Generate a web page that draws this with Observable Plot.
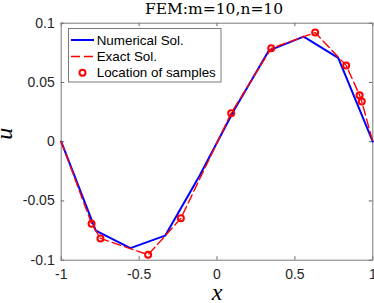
<!DOCTYPE html>
<html><head><meta charset="utf-8">
<script src="https://cdn.jsdelivr.net/npm/d3@7"></script>
<script src="https://cdn.jsdelivr.net/npm/@observablehq/plot@0.6"></script>
<style>
body{margin:0;background:#fff;}
#wrap{position:relative;width:374px;height:303px;overflow:hidden;}
#wrap svg{display:block;}
#legend{position:absolute;left:0;top:0;}
</style></head><body><div id="wrap"></div>
<script>
const title = "FEM:m=10,n=10";
const xLabel = "x";
const yLabel = "u";
const xTicks = [-1, -0.5, 0, 0.5, 1];
const xTickLabels = ["-1", "-0.5", "0", "0.5", "1"];
const yTicks = [-0.1, -0.05, 0, 0.05, 0.1];
const yTickLabels = ["-0.1", "-0.05", "0", "0.05", "0.1"];

// Numerical (FEM) solution at the mesh nodes
const nodeX = [-1, -0.778, -0.556, -0.333, -0.111, 0.111, 0.333, 0.556, 0.778, 1];
const numU  = [0, -0.0751, -0.0898, -0.0793, -0.0285, 0.027, 0.0769, 0.0887, 0.0707, 0];

// Exact solution (boundary points + samples)
const exactX = [-1, -0.805, -0.748, -0.442, -0.232, 0.091, 0.348, 0.630, 0.829, 0.915, 0.929, 1];
const exactU = [0, -0.0692, -0.0816, -0.0954, -0.0647, 0.0241, 0.0788, 0.0921, 0.0644, 0.0393, 0.0339, 0];

// Sample locations
const sampleX = [-0.805, -0.748, -0.442, -0.232, 0.091, 0.348, 0.630, 0.829, 0.915, 0.929];
const sampleU = [-0.0692, -0.0816, -0.0954, -0.0647, 0.0241, 0.0788, 0.0921, 0.0644, 0.0393, 0.0339];

const legendLabels = ["Numerical Sol.", "Exact Sol.", "Location of samples"];

const W = 374, H = 303, mL = 60.7, mR = 1.7, mT = 22.7, mB = 43.3;
const innerW = W - mL - mR, innerH = H - mT - mB;
const tick = 3.5;
const axisColor = "#262626";
const sans = "'Liberation Sans', Arial, Helvetica, sans-serif";
const serif = "'Liberation Serif', 'Times New Roman', serif";
const titleSerif = "'DejaVu Serif', serif";

const numData = nodeX.map((x, i) => ({x, u: numU[i]}));
const exactData = exactX.map((x, i) => ({x, u: exactU[i]}));
const sampleData = sampleX.map((x, i) => ({x, u: sampleU[i]}));

const chart = Plot.plot({
  width: W, height: H,
  marginLeft: mL, marginRight: mR, marginTop: mT, marginBottom: mB,
  x: {domain: [-1, 1]},
  y: {domain: [-0.1, 0.1]},
  style: {fontFamily: sans, fontSize: "14px", color: axisColor, background: "#fff", overflow: "visible"},
  marks: [
    Plot.ruleX(xTicks, {x: d => d, insetTop: innerH - tick, stroke: axisColor, strokeWidth: 0.7}),
    Plot.ruleX(xTicks, {x: d => d, insetBottom: innerH - tick, stroke: axisColor, strokeWidth: 0.7}),
    Plot.ruleY(yTicks, {y: d => d, insetRight: innerW - tick, stroke: axisColor, strokeWidth: 0.7}),
    Plot.ruleY(yTicks, {y: d => d, insetLeft: innerW - tick, stroke: axisColor, strokeWidth: 0.7}),
    Plot.frame({stroke: "#7a7a7a", strokeWidth: 1}),
    Plot.axisX(xTicks, {anchor: "bottom", tickSize: 0, tickPadding: 8.5, label: null,
      tickFormat: d => xTickLabels[xTicks.indexOf(d)], fontSize: 14, fill: axisColor}),
    Plot.axisY(yTicks, {anchor: "left", tickSize: 0, tickPadding: 6.5, label: null,
      tickFormat: d => yTickLabels[yTicks.indexOf(d)], fontSize: 14, fill: axisColor}),
    Plot.line(numData, {x: "x", y: "u", stroke: "#0000ff", strokeWidth: 2}),
    Plot.line(exactData, {x: "x", y: "u", stroke: "#ff0000", strokeWidth: 1.4, strokeDasharray: "9,4"}),
    Plot.dot(sampleData, {x: "x", y: "u", r: 3, stroke: "#ff0000", strokeWidth: 2, fill: "none"}),
    Plot.text([title], {frameAnchor: "top", dx: -3, dy: -14.5, lineAnchor: "middle",
      fontFamily: titleSerif, fontSize: 15.5, fill: "#000"}),
    Plot.text([xLabel], {frameAnchor: "bottom", dy: 32, lineAnchor: "middle",
      fontFamily: serif, fontStyle: "italic", fontSize: 24, fill: "#000"}),
    Plot.text([yLabel], {frameAnchor: "left", dx: -57.3, dy: -2, rotate: -90, lineAnchor: "middle",
      fontFamily: serif, fontStyle: "italic", fontSize: 24, fill: "#000"})
  ]
});

const wrap = document.getElementById("wrap");
wrap.appendChild(chart);

// Legend overlay (inside the axes, top-left)
const lg = d3.select(wrap).append("svg").attr("id", "legend")
  .attr("width", W).attr("height", H);
const lx = 68, ly = 28, lw = 152.5, lh = 53.5;
lg.append("rect").attr("x", lx + 0.5).attr("y", ly + 0.5).attr("width", lw).attr("height", lh)
  .attr("fill", "#fff").attr("stroke", "#7a7a7a").attr("stroke-width", 1);
const rowY = [40, 56.5, 72.7];
const styles = [
  {stroke: "#0000ff", width: 2, dash: null},
  {stroke: "#ff0000", width: 1.4, dash: "9,4"},
  {stroke: "#ff0000", width: 2, dash: null, marker: true}
];
legendLabels.forEach((label, i) => {
  const s = styles[i];
  if (s.marker) {
    lg.append("circle").attr("cx", 82.5).attr("cy", rowY[i]).attr("r", 3)
      .attr("fill", "none").attr("stroke", s.stroke).attr("stroke-width", s.width);
  } else {
    lg.append("line").attr("x1", 71).attr("x2", 94).attr("y1", rowY[i]).attr("y2", rowY[i])
      .attr("stroke", s.stroke).attr("stroke-width", s.width).attr("stroke-dasharray", s.dash);
  }
  lg.append("text").attr("x", 96.7).attr("y", rowY[i]).attr("dy", "0.35em")
    .attr("font-family", sans).attr("font-size", 13.4).attr("fill", "#000").text(label);
});
</script></body></html>
